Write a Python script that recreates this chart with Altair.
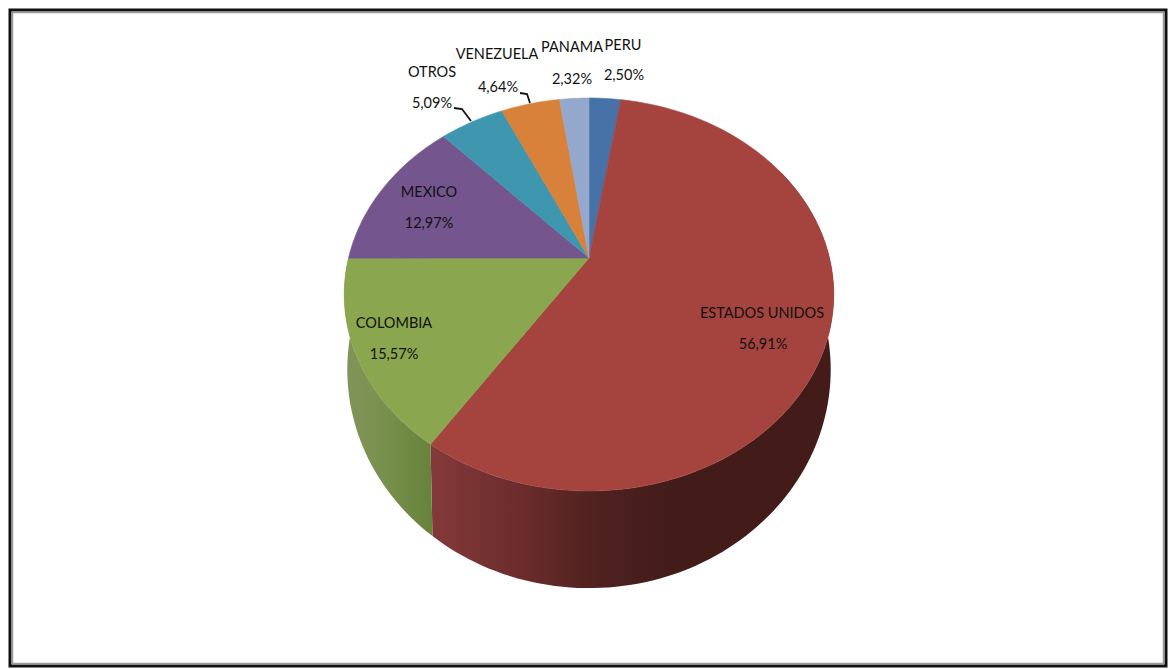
import math
import altair as alt

# ---- data, clockwise from 12 o'clock ----
countries = ["PERU", "ESTADOS UNIDOS", "COLOMBIA", "MEXICO", "OTROS", "VENEZUELA", "PANAMA"]
shares = [2.50, 56.91, 15.57, 12.97, 5.09, 4.64, 2.32]
colors = ["#4672A8", "#A5443F", "#8AA64E", "#74558E", "#3F97AF", "#D8813B", "#94A8CE"]

# ---- layout of the drawing (window pixels) ----
OX, OY = 10, 10
W, H = 1156, 656
AX, AY = 589, 258          # apex of the top face
R, Q, K = 240.5, 189.7, 0.1857   # radii and perspective of the top rim
R2, Q2, AY2 = 237.5, 211, 329    # the same for the bottom rim
FONT = "Lato"
FSIZE = 14.5
label_name_at = {"PERU": (623, 46), "PANAMA": (572, 48), "VENEZUELA": (497, 55), "OTROS": (432, 73),
                 "MEXICO": (429, 193), "COLOMBIA": (394, 324), "ESTADOS UNIDOS": (762, 314)}
label_value_at = {"PERU": (624, 76), "PANAMA": (572, 80), "VENEZUELA": (498, 88), "OTROS": (432, 104),
                  "MEXICO": (429, 224), "COLOMBIA": (394, 355), "ESTADOS UNIDOS": (763, 345)}
leaders = [[(454, 108), (462, 109), (471, 121)], [(520, 93), (527, 94), (530, 103)]]


def rim(deg, r=R, q=Q, ay=AY):
    t = math.radians(deg)
    u, v = math.sin(t), math.cos(t)
    s = 1 / (1 + K * v)
    return [AX + r * u * s - OX, ay - q * v * s - OY]


def arc(a, b, r=R, q=Q, ay=AY):
    n = max(2, int(abs(b - a) / 1.5))
    return [rim(a + (b - a) * i / n, r, q, ay) for i in range(n + 1)]


def feature(coords, color, kind="Polygon"):
    geom = [coords + [coords[0]]] if kind == "Polygon" else coords
    return {"type": "Feature", "geometry": {"type": kind, "coordinates": geom}, "properties": {"color": color}}


edges = [0]
for v in shares:
    edges.append(edges[-1] + v * 3.6)

wedges = [
    feature([[AX - OX, AY - OY]] + arc(edges[i], edges[i + 1]), colors[i])
    for i in range(len(shares))
]
red_side = [feature(arc(edges[2], 60) + arc(60, edges[2], R2, Q2, AY2), "side")]
green_side = [feature(arc(edges[3], edges[2]) + arc(edges[2], edges[3], R2, Q2, AY2), "side")]
leader_feats = [feature([[x - OX, y - OY] for x, y in pts], "#111111", "LineString") for pts in leaders]

label_rows = []
for name, val in zip(countries, shares):
    nx, ny = label_name_at[name]
    vx, vy = label_value_at[name]
    label_rows.append({"t": name, "x": nx - OX, "y": ny - OY})
    label_rows.append({"t": f"{val:.2f}".replace(".", ",") + "%", "x": vx - OX, "y": vy - OY})


def grad(stops):
    return alt.Gradient(
        gradient="linear", x1=0, x2=1, y1=0, y2=0,
        stops=[alt.GradientStop(offset=o, color=c) for o, c in stops],
    )


red_layer = alt.Chart(alt.Data(values=red_side)).mark_geoshape(
    fill=grad([(0, "#84393A"), (0.2, "#6E2E2D"), (0.42, "#4E211F"), (0.6, "#431C1A"), (1, "#431C1A")]),
    stroke=None,
)
green_layer = alt.Chart(alt.Data(values=green_side)).mark_geoshape(
    fill=grad([(0, "#83945A"), (0.5, "#76904C"), (1, "#67823A")]),
    stroke=None,
)
top_layer = alt.Chart(alt.Data(values=wedges)).mark_geoshape(strokeWidth=0.6).encode(
    fill=alt.Fill("properties.color:N", scale=None),
    stroke=alt.Stroke("properties.color:N", scale=None),
)
leader_layer = alt.Chart(alt.Data(values=leader_feats)).mark_geoshape(
    filled=False, stroke="#111111", strokeWidth=1.8
)
text_layer = alt.Chart(alt.Data(values=label_rows)).mark_text(
    font=FONT, fontSize=FSIZE, color="#111111", align="center", baseline="middle"
).encode(
    longitude="x:Q",
    latitude="y:Q",
    text="t:N",
)
frame_layer = alt.Chart(alt.Data(values=[{"a": 1}])).mark_rect(
    fill="transparent", stroke="#9A9A9A", strokeWidth=1.5
).encode(
    x=alt.value(2.5), x2=alt.value(W - 2.5), y=alt.value(2.5), y2=alt.value(H - 2.5)
)

chart = (
    alt.layer(red_layer, green_layer, top_layer, leader_layer, text_layer, frame_layer)
    .project(type="identity", scale=1, translate=[0, 0])
    .properties(
        width=W, height=H, padding=2,
        autosize=alt.AutoSizeParams(type="none"),
        background="white",
    )
    .configure_view(stroke="#111111", strokeWidth=3)
)
chart.save("out.html", embed_options={"renderer": "svg", "actions": False})
